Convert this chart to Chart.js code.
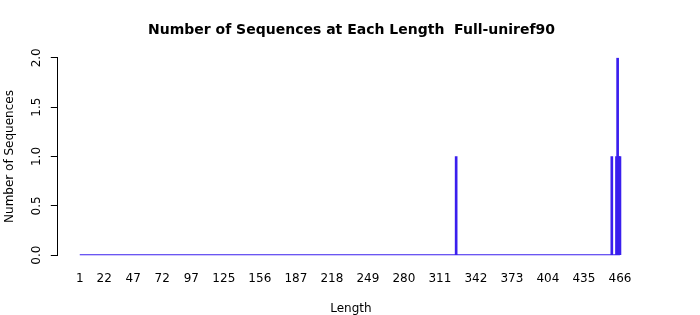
<!DOCTYPE html>
<html>
<head>
<meta charset="utf-8">
<script src="https://cdn.jsdelivr.net/npm/chart.js@4/dist/chart.umd.min.js"></script>
<style>
  body { margin: 0; background: #fff; }
  #wrap { width: 700px; height: 315px; }
</style>
</head>
<body>
<div id="wrap"><canvas id="lengthChart"></canvas></div>
<script>
// sequence lengths that occur, and how many sequences have each length
const lengths = [325, 459, 463, 464, 465, 466];
const counts = [1, 1, 1, 2, 1, 1];
// full range of lengths in the table (zero-count bars show as a baseline)
const lengthRange = [1, 466];
const xTicks = [1, 22, 47, 72, 97, 125, 156, 187, 218, 249, 280, 311, 342, 373, 404, 435, 466];
const yTicks = [0, 0.5, 1, 1.5, 2];

const barColor = "#3a1fee";
const font = "DejaVu Sans";

const ctx = document.getElementById("lengthChart");
// eslint-disable-next-line no-unused-vars
const lengthChart = new Chart(ctx, {
  type: "bar",
  data: {
    datasets: [
      {
        type: "line",
        data: lengthRange.map(v => ({ x: v, y: 0 })),
        borderColor: barColor,
        borderWidth: 2,
        pointRadius: 0
      },
      {
        data: lengths.map((v, i) => ({ x: v, y: counts[i] })),
        backgroundColor: barColor,
        borderWidth: 0,
        barThickness: 2
      }
    ]
  },
  options: {
    responsive: true,
    maintainAspectRatio: false,
    animation: false,
    layout: { padding: { top: 0, right: 0, bottom: -1, left: 3 } },
    plugins: {
      legend: { display: false },
      tooltip: { enabled: false },
      title: {
        display: true,
        text: "Number of Sequences at Each Length  Full-uniref90",
        color: "#000",
        font: { family: font, size: 14, weight: "bold" },
        padding: { top: 22, bottom: 19 }
      }
    },
    scales: {
      x: {
        type: "linear",
        offset: false,
        min: -17.9,
        max: 486.7,
        afterBuildTicks: axis => { axis.ticks = xTicks.map(v => ({ value: v })); },
        ticks: {
          autoSkip: false,
          maxRotation: 0,
          color: "#000",
          font: { family: font, size: 12 },
          padding: 16,
          callback: v => String(v)
        },
        grid: { display: false, drawTicks: false },
        border: { display: false },
        title: {
          display: true,
          text: "Length",
          color: "#000",
          font: { family: font, size: 12 },
          padding: { top: 0, bottom: 0 }
        }
      },
      y: {
        min: 0,
        max: 2,
        afterBuildTicks: axis => { axis.ticks = yTicks.map(v => ({ value: v })); },
        ticks: {
          minRotation: 90,
          maxRotation: 90,
          crossAlign: "center",
          color: "#000",
          font: { family: font, size: 12 },
          padding: 4,
          callback: v => v.toFixed(1)
        },
        grid: {
          drawOnChartArea: false,
          drawTicks: true,
          tickLength: 7,
          color: "#000"
        },
        border: { display: true, color: "#000" },
        title: {
          display: true,
          text: "Number of Sequences",
          color: "#000",
          font: { family: font, size: 12 },
          padding: { top: 0, bottom: 11 }
        }
      },
      // empty right margin, like R's plot margin
      margin: {
        position: "right",
        display: true,
        min: 0,
        max: 2,
        ticks: { display: false },
        grid: { display: false },
        border: { display: false },
        afterFit: scale => { scale.width = 56; }
      }
    }
  }
});
</script>
</body>
</html>
